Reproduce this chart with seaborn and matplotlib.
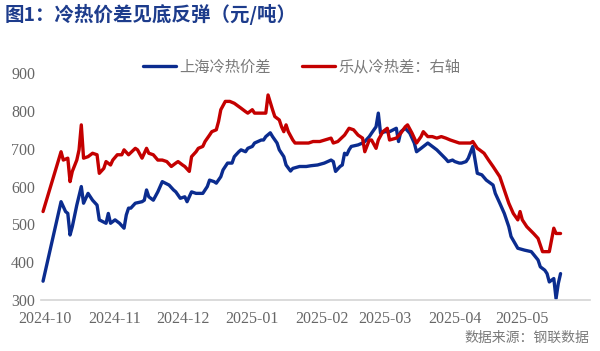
import pandas as pd
import matplotlib
matplotlib.use("Agg")
import matplotlib.pyplot as plt
import matplotlib.dates as mdates
import seaborn as sns

# 上海冷热价差 (blue, left axis)
sh_dates = [
    "2024-09-30", "2024-10-08", "2024-10-10", "2024-10-11", "2024-10-12", "2024-10-13",
    "2024-10-15", "2024-10-17", "2024-10-18", "2024-10-19", "2024-10-20", "2024-10-22",
    "2024-10-24", "2024-10-25", "2024-10-28", "2024-10-29", "2024-10-30", "2024-11-01",
    "2024-11-03", "2024-11-05", "2024-11-06", "2024-11-07", "2024-11-08", "2024-11-10",
    "2024-11-13", "2024-11-14", "2024-11-15", "2024-11-16", "2024-11-18", "2024-11-20",
    "2024-11-22", "2024-11-25", "2024-11-27", "2024-11-28", "2024-11-30", "2024-12-02",
    "2024-12-03", "2024-12-05", "2024-12-07", "2024-12-10", "2024-12-12", "2024-12-13",
    "2024-12-15", "2024-12-16", "2024-12-18", "2024-12-19", "2024-12-21", "2024-12-23",
    "2024-12-24", "2024-12-26", "2024-12-27", "2024-12-29", "2024-12-30", "2025-01-01",
    "2025-01-02", "2025-01-05", "2025-01-06", "2025-01-07", "2025-01-09", "2025-01-10",
    "2025-01-12", "2025-01-13", "2025-01-15", "2025-01-16", "2025-01-18", "2025-01-19",
    "2025-01-22", "2025-01-25", "2025-01-27", "2025-01-30", "2025-02-02", "2025-02-05",
    "2025-02-06", "2025-02-07", "2025-02-09", "2025-02-10", "2025-02-11", "2025-02-12",
    "2025-02-13", "2025-02-14", "2025-02-17", "2025-02-19", "2025-02-20", "2025-02-22",
    "2025-02-23", "2025-02-25", "2025-02-26", "2025-02-27", "2025-03-01", "2025-03-03",
    "2025-03-06", "2025-03-07", "2025-03-08", "2025-03-10", "2025-03-12", "2025-03-14",
    "2025-03-15", "2025-03-17", "2025-03-20", "2025-03-22", "2025-03-24", "2025-03-26",
    "2025-03-27", "2025-03-28", "2025-03-29", "2025-03-31", "2025-04-01", "2025-04-03",
    "2025-04-04", "2025-04-06", "2025-04-07", "2025-04-09", "2025-04-10", "2025-04-11",
    "2025-04-13", "2025-04-15", "2025-04-18", "2025-04-19", "2025-04-21", "2025-04-23",
    "2025-04-25", "2025-04-26", "2025-04-29", "2025-05-02", "2025-05-05", "2025-05-08",
    "2025-05-09", "2025-05-11", "2025-05-12", "2025-05-13", "2025-05-15", "2025-05-16",
    "2025-05-17", "2025-05-18",
]
sh_values = [
    350, 560, 534, 529, 472, 494,
    551, 600, 556, 569, 582, 564,
    551, 512, 503, 529, 503, 512,
    503, 490, 525, 543, 543, 556,
    560, 564, 591, 573, 564, 586,
    613, 604, 591, 586, 569, 573,
    560, 586, 582, 582, 600, 617,
    613, 609, 626, 644, 662, 662,
    679, 692, 697, 692, 701, 706,
    715, 723, 723, 732, 742, 732,
    715, 697, 679, 657, 641, 648,
    653, 653, 655, 657, 662, 670,
    666, 640, 653, 657, 688, 684,
    697, 706, 710, 715, 719, 732,
    741, 758, 794, 741, 745, 745,
    754, 719, 745, 754, 741, 715,
    692, 701, 715, 706, 697, 685,
    679, 673, 666, 670, 666, 662,
    662, 666, 675, 706, 670, 635,
    631, 617, 604, 582, 556, 529,
    494, 468, 437, 432, 428, 406,
    388, 379, 370, 348, 357, 304,
    344, 370,
]

# 乐从冷热差 (red, right axis, same scale)
lc_dates = [
    "2024-09-30", "2024-10-08", "2024-10-09", "2024-10-11", "2024-10-12", "2024-10-13",
    "2024-10-15", "2024-10-16", "2024-10-17", "2024-10-18", "2024-10-20", "2024-10-22",
    "2024-10-24", "2024-10-25", "2024-10-27", "2024-10-28", "2024-10-30", "2024-10-31",
    "2024-11-02", "2024-11-04", "2024-11-05", "2024-11-07", "2024-11-10", "2024-11-11",
    "2024-11-13", "2024-11-15", "2024-11-16", "2024-11-18", "2024-11-20", "2024-11-22",
    "2024-11-24", "2024-11-26", "2024-11-28", "2024-11-29", "2024-12-01", "2024-12-02",
    "2024-12-04", "2024-12-05", "2024-12-07", "2024-12-08", "2024-12-10", "2024-12-11",
    "2024-12-13", "2024-12-14", "2024-12-16", "2024-12-17", "2024-12-18", "2024-12-20",
    "2024-12-22", "2024-12-24", "2024-12-27", "2024-12-29", "2024-12-30", "2025-01-01",
    "2025-01-02", "2025-01-05", "2025-01-07", "2025-01-08", "2025-01-10", "2025-01-11",
    "2025-01-13", "2025-01-14", "2025-01-15", "2025-01-16", "2025-01-17", "2025-01-19",
    "2025-01-20", "2025-01-23", "2025-01-26", "2025-01-28", "2025-01-31", "2025-02-05",
    "2025-02-06", "2025-02-08", "2025-02-11", "2025-02-13", "2025-02-15", "2025-02-17",
    "2025-02-19", "2025-02-20", "2025-02-22", "2025-02-23", "2025-02-25", "2025-02-26",
    "2025-02-28", "2025-03-02", "2025-03-03", "2025-03-06", "2025-03-08", "2025-03-10",
    "2025-03-11", "2025-03-13", "2025-03-15", "2025-03-17", "2025-03-18", "2025-03-20",
    "2025-03-22", "2025-03-24", "2025-03-26", "2025-03-28", "2025-03-30", "2025-04-01",
    "2025-04-03", "2025-04-06", "2025-04-08", "2025-04-09", "2025-04-11", "2025-04-12",
    "2025-04-14", "2025-04-16", "2025-04-18", "2025-04-21", "2025-04-23", "2025-04-25",
    "2025-04-27", "2025-04-29", "2025-04-30", "2025-05-01", "2025-05-03", "2025-05-06",
    "2025-05-08", "2025-05-10", "2025-05-12", "2025-05-13", "2025-05-15", "2025-05-16",
    "2025-05-18",
]
lc_values = [
    534, 692, 670, 675, 613, 640,
    670, 697, 763, 675, 679, 688,
    684, 635, 648, 666, 657, 670,
    684, 684, 697, 684, 701, 697,
    675, 701, 688, 684, 670, 670,
    666, 653, 662, 666, 657, 653,
    640, 679, 692, 701, 706, 719,
    736, 745, 750, 772, 803, 825,
    825, 820, 807, 798, 794, 803,
    794, 794, 794, 842, 803, 785,
    776, 758, 745, 763, 745, 723,
    715, 715, 715, 719, 719, 728,
    715, 719, 736, 754, 750, 736,
    728, 692, 723, 723, 701, 723,
    745, 754, 723, 728, 741, 758,
    763, 741, 715, 732, 745, 732,
    732, 728, 732, 728, 723, 719,
    715, 715, 715, 719, 701, 697,
    688, 670, 653, 626, 591, 556,
    529, 512, 534, 512, 494, 476,
    463, 428, 428, 428, 490, 476,
    476,
]

y_ticks = [300, 400, 500, 600, 700, 800, 900]
month_ticks = ["2024-10-01", "2024-11-01", "2024-12-01", "2025-01-01",
               "2025-02-01", "2025-03-01", "2025-04-01", "2025-05-01"]

df_sh = pd.DataFrame({"date": pd.to_datetime(sh_dates), "value": sh_values})
df_lc = pd.DataFrame({"date": pd.to_datetime(lc_dates), "value": lc_values})

sns.set_theme(style="white")
plt.rcParams["font.family"] = ["Noto Sans CJK SC", "DejaVu Sans"]

blue = "#0b2c8f"
red = "#c40000"
gray = "#7a7a7a"

fig = plt.figure(figsize=(6.0, 3.51), dpi=100)
ax = fig.add_axes([0.068, 0.145, 0.915, 0.647])

sns.lineplot(data=df_sh, x="date", y="value", ax=ax, color=blue, linewidth=2.4,
             label="上海冷热价差")
sns.lineplot(data=df_lc, x="date", y="value", ax=ax, color=red, linewidth=2.4,
             label="乐从冷热差：右轴")

ax.set_ylim(300, 900)
ax.set_yticks(y_ticks)
ax.set_xlim(pd.Timestamp("2024-09-29"), pd.Timestamp("2025-05-31"))
ax.set_xticks(pd.to_datetime(month_ticks))
ax.xaxis.set_major_formatter(mdates.DateFormatter("%Y-%m"))
ax.set_xlabel("")
ax.set_ylabel("")

for side in ["left", "right", "top"]:
    ax.spines[side].set_visible(False)
ax.spines["bottom"].set_color("#d4d4d4")
ax.spines["bottom"].set_linewidth(1.2)
ax.tick_params(axis="x", which="major", direction="out", length=4, color="#d4d4d4",
               pad=4, labelsize=11.5, labelcolor="#666666")
ax.tick_params(axis="y", length=0, pad=4, labelsize=11.5, labelcolor="#666666")
for lbl in ax.get_xticklabels() + ax.get_yticklabels():
    lbl.set_fontfamily("Liberation Serif")

leg = ax.legend(loc="center", bbox_to_anchor=(0.475, 1.025), ncol=2, frameon=False,
                fontsize=11, handlelength=2.2, columnspacing=2.0, handletextpad=0.2,
                borderpad=0)
for t in leg.get_texts():
    t.set_color(gray)

fig.text(0.008, 0.958, "图1：冷热价差见底反弹（元/吨）", fontsize=14, fontweight="bold",
         color="#1d3c8c", ha="left", va="center")
fig.text(0.983, 0.037, "数据来源：钢联数据", fontsize=10, color=gray,
         ha="right", va="center")

fig.savefig("out.png", dpi=100, facecolor="white")
